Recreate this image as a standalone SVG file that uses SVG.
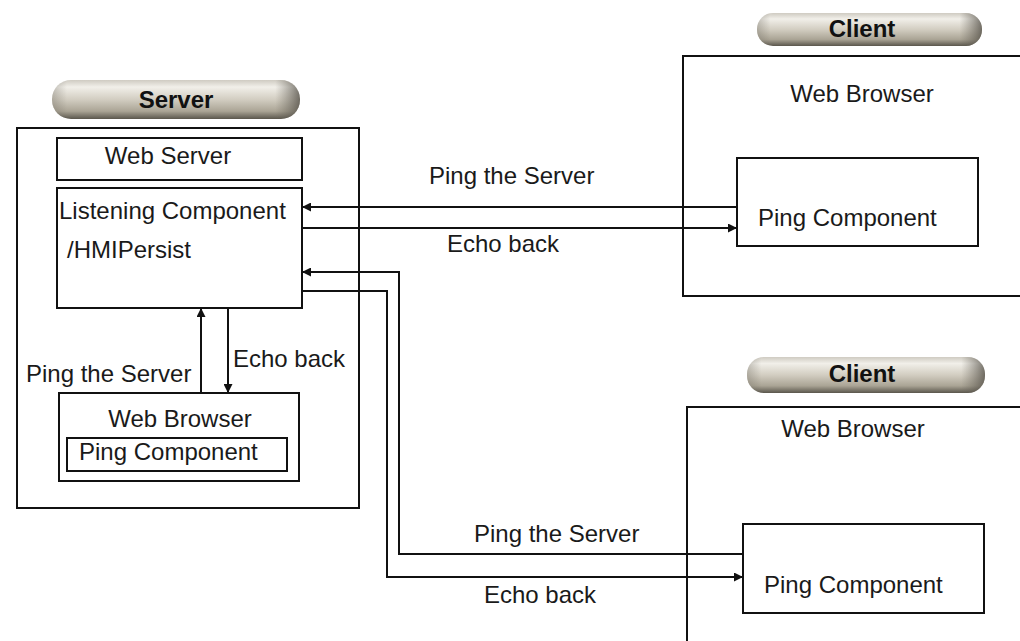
<svg xmlns="http://www.w3.org/2000/svg" width="1020" height="641" viewBox="0 0 1020 641">
<style>
.box{fill:none;stroke:#111;stroke-width:2}
.t{font-family:"Liberation Sans",Arial,sans-serif;font-size:24px;fill:#1a1a1a}
.c{text-anchor:middle}
.title{font-family:"Liberation Sans",Arial,sans-serif;font-size:24px;font-weight:bold;fill:#111;text-anchor:middle}
.ln{fill:none;stroke:#111;stroke-width:2}
</style>
<defs>
<linearGradient id="pv" x1="0" y1="0" x2="0" y2="1">
<stop offset="0" stop-color="#cfcbc2"/>
<stop offset="0.18" stop-color="#f1efe9"/>
<stop offset="0.5" stop-color="#d2cdc1"/>
<stop offset="0.8" stop-color="#aaa495"/>
<stop offset="1" stop-color="#5a564c"/>
</linearGradient>
<linearGradient id="ph" x1="0" y1="0" x2="1" y2="0">
<stop offset="0" stop-color="#6a665c" stop-opacity="0.35"/>
<stop offset="0.06" stop-color="#6a665c" stop-opacity="0"/>
<stop offset="0.9" stop-color="#6a665c" stop-opacity="0"/>
<stop offset="1" stop-color="#4e4a42" stop-opacity="0.75"/>
</linearGradient>
<marker id="ah" viewBox="0 0 10 10" refX="10" refY="5" markerWidth="9" markerHeight="9" markerUnits="userSpaceOnUse" orient="auto">
<path d="M0,0 L10,5 L0,10 z" fill="#111"/>
</marker>
</defs>

<g id="server">
<rect class="box" x="17" y="128" width="342" height="380"/>
<g id="server-pill">
<rect x="52" y="80" width="248" height="39" rx="19" fill="url(#pv)"/>
<rect x="52" y="80" width="248" height="39" rx="19" fill="url(#ph)"/>
<text class="title" x="176" y="108">Server</text>
</g>
</g>
<g id="web-server">
<rect class="box" x="57" y="138" width="245" height="42"/>
<text class="t c" x="168" y="164">Web Server</text>
</g>
<g id="listening-component">
<rect class="box" x="57" y="188" width="245" height="120"/>
<text class="t" x="59" y="219">Listening Component</text>
<text class="t" x="67" y="258">/HMIPersist</text>
</g>
<g id="local-browser">
<rect class="box" x="59" y="393" width="240" height="88"/>
<text class="t c" x="180" y="427">Web Browser</text>
</g>
<g id="local-ping">
<rect class="box" x="67" y="438" width="220" height="33"/>
<text class="t" x="79" y="460">Ping Component</text>
</g>

<g id="client1">
<g id="client1-pill">
<rect x="757" y="13" width="225" height="33" rx="16" fill="url(#pv)"/>
<rect x="757" y="13" width="225" height="33" rx="16" fill="url(#ph)"/>
<text class="title" x="862" y="37">Client</text>
</g>
<rect class="box" x="683" y="56" width="350" height="240"/>
<text class="t c" x="862" y="102">Web Browser</text>
</g>
<g id="client1-ping">
<rect class="box" x="737" y="158" width="241" height="88"/>
<text class="t" x="758" y="226">Ping Component</text>
</g>

<g id="client2">
<g id="client2-pill">
<rect x="747" y="357" width="238" height="36" rx="17" fill="url(#pv)"/>
<rect x="747" y="357" width="238" height="36" rx="17" fill="url(#ph)"/>
<text class="title" x="862" y="382">Client</text>
</g>
<rect class="box" x="687" y="407" width="350" height="250"/>
<text class="t c" x="853" y="437">Web Browser</text>
</g>
<g id="client2-ping">
<rect class="box" x="743" y="524" width="241" height="89"/>
<text class="t" x="764" y="593">Ping Component</text>
</g>

<g id="connectors">
<path class="ln" d="M737,207 H302" marker-end="url(#ah)"/>
<path class="ln" d="M302,228 H737" marker-end="url(#ah)"/>
<path class="ln" d="M743,554 H399 V272 H302" marker-end="url(#ah)"/>
<path class="ln" d="M302,291 H387 V577 H743" marker-end="url(#ah)"/>
<path class="ln" d="M201,393 V308" marker-end="url(#ah)"/>
<path class="ln" d="M228,308 V393" marker-end="url(#ah)"/>
<text class="t" x="429" y="184">Ping the Server</text>
<text class="t" x="447" y="252">Echo back</text>
<text class="t" x="474" y="542">Ping the Server</text>
<text class="t" x="484" y="603">Echo back</text>
<text class="t" x="26" y="382">Ping the Server</text>
<text class="t" x="233" y="367">Echo back</text>
</g>
</svg>
